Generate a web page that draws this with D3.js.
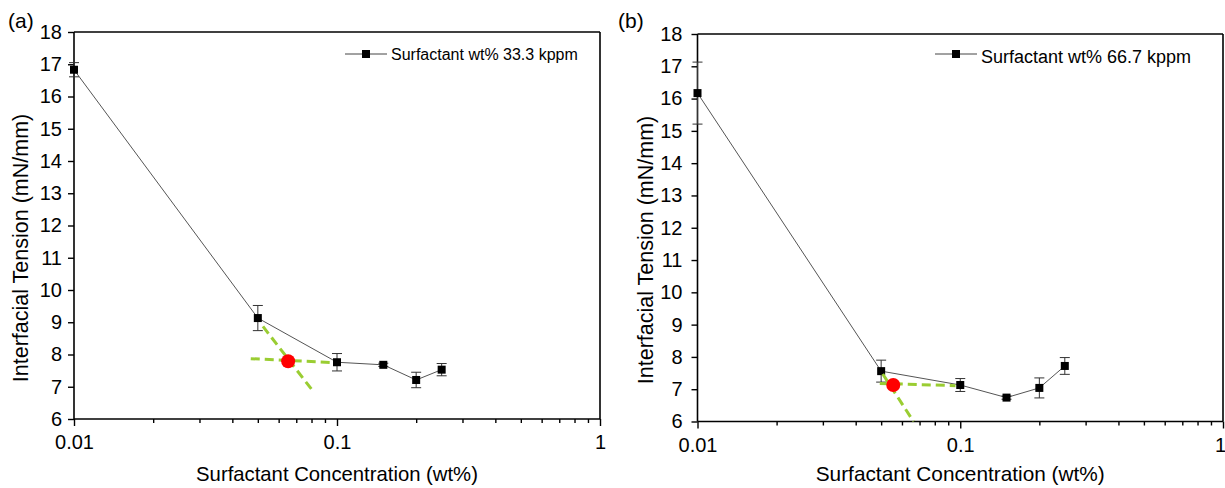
<!DOCTYPE html>
<html>
<head>
<meta charset="utf-8">
<script src="https://cdn.jsdelivr.net/npm/d3@7"></script>
<style>
  body { margin: 0; background: #fff; }
  svg { display: block; font-family: "Liberation Sans", Arial, sans-serif; }
</style>
</head>
<body>
<svg id="chart" width="1225" height="488"></svg>
<script>
// ---------- data ----------
const concentrations = [0.01, 0.05, 0.1, 0.15, 0.2, 0.25];
const tensionA = [16.83, 9.13, 7.76, 7.68, 7.21, 7.53];
const errorA = [0.22, 0.39, 0.27, 0.05, 0.24, 0.19];
const tensionB = [16.17, 7.56, 7.13, 6.74, 7.04, 7.72];
const errorB = [0.96, 0.34, 0.2, 0.05, 0.31, 0.26];

const legendA = "Surfactant wt% 33.3 kppm";
const legendB = "Surfactant wt% 66.7 kppm";

const yTicks = [6, 7, 8, 9, 10, 11, 12, 13, 14, 15, 16, 17, 18];
const xMajorTicks = [0.01, 0.1, 1];
const xTickLabels = ["0.01", "0.1", "1"];
const xMinorTicks = [0.02, 0.03, 0.04, 0.05, 0.06, 0.07, 0.08, 0.09,
                     0.2, 0.3, 0.4, 0.5, 0.6, 0.7, 0.8, 0.9];

// tangent (green dashed) lines and intersection (red) points
const tangentsA = [
  [[0.0523, 8.87], [0.0815, 6.84]],
  [[0.047, 7.87], [0.0963, 7.75]]
];
const cmcA = [0.0652, 7.79];
const tangentsB = [
  [[0.0507, 7.47], [0.0664, 6.0]],
  [[0.0494, 7.18], [0.0959, 7.11]]
];
const cmcB = [0.0556, 7.13];

// ---------- drawing ----------
const svg = d3.select("#chart");

function panel(cfg) {
  const x = d3.scaleLog().domain([0.01, 1]).range([cfg.x0, cfg.x1]);
  const y = d3.scaleLinear().domain([6, 18]).range([cfg.y1, cfg.y0]);
  const g = svg.append("g");

  // frame top & right
  g.append("line").attr("x1", cfg.x0).attr("x2", cfg.x1).attr("y1", cfg.y0).attr("y2", cfg.y0)
    .attr("stroke", "#000").attr("stroke-width", 1.6);
  g.append("line").attr("x1", cfg.x1).attr("x2", cfg.x1).attr("y1", cfg.y0).attr("y2", cfg.y1)
    .attr("stroke", "#000").attr("stroke-width", 1.6);

  // x minor ticks
  g.append("g").attr("transform", `translate(0,${cfg.y1})`)
    .call(d3.axisBottom(x).tickValues(xMinorTicks).tickSize(4).tickFormat(""))
    .call(s => s.select(".domain").remove())
    .call(s => s.selectAll("line").attr("stroke-width", 1.4));

  // x major axis
  const xa = g.append("g").attr("transform", `translate(0,${cfg.y1})`)
    .call(d3.axisBottom(x).tickValues(xMajorTicks).tickSize(7).tickPadding(9)
      .tickFormat((d, i) => xTickLabels[i]));
  xa.select(".domain").attr("stroke-width", 1.6).attr("d", `M${cfg.x0},0H${cfg.x1}`);
  xa.selectAll("line").attr("stroke-width", 1.4);
  xa.selectAll("text").attr("font-size", cfg.tickFont).attr("fill", "#000")
    .attr("font-family", "Liberation Sans, Arial, sans-serif")
    .attr("dx", d => d === 1 ? cfg.lastDx : 0);

  // y axis
  const ya = g.append("g").attr("transform", `translate(${cfg.x0},0)`)
    .call(d3.axisLeft(y).tickValues(yTicks).tickSize(6).tickPadding(cfg.yPad));
  ya.select(".domain").attr("stroke-width", 1.6).attr("d", `M0,${cfg.y1}V${cfg.y0}`);
  ya.selectAll("line").attr("stroke-width", 1.4);
  ya.selectAll("text").attr("font-size", cfg.tickFont).attr("fill", "#000")
    .attr("font-family", "Liberation Sans, Arial, sans-serif");

  // axis titles
  g.append("text").attr("x", (cfg.x0 + cfg.x1) / 2).attr("y", cfg.xTitleY)
    .attr("text-anchor", "middle").attr("font-size", cfg.xTitleFont)
    .text("Surfactant Concentration (wt%)");
  g.append("text").attr("transform", `translate(${cfg.yTitleX},${cfg.yTitleY}) rotate(-90)`)
    .attr("text-anchor", "middle").attr("font-size", cfg.yTitleFont)
    .text("Interfacial Tension (mN/mm)");

  // panel label
  g.append("text").attr("x", cfg.labelX).attr("y", 28).attr("font-size", 21).text(cfg.label);

  const pts = concentrations.map((c, i) => ({ c, v: cfg.values[i], e: cfg.errors[i] }));

  // connecting line
  g.append("path").datum(pts)
    .attr("d", d3.line().x(d => x(d.c)).y(d => y(d.v)))
    .attr("fill", "none").attr("stroke", "#555").attr("stroke-width", 1);

  // error bars
  const eb = g.append("g").attr("stroke", "#333").attr("stroke-width", 1);
  pts.forEach(d => {
    const cx = x(d.c);
    eb.append("line").attr("x1", cx).attr("x2", cx).attr("y1", y(d.v - d.e)).attr("y2", y(d.v + d.e));
    [d.v - d.e, d.v + d.e].forEach(v => {
      eb.append("line").attr("x1", cx - 5).attr("x2", cx + 5).attr("y1", y(v)).attr("y2", y(v));
    });
  });

  // squares
  g.selectAll("rect.pt").data(pts).enter().append("rect")
    .attr("x", d => x(d.c) - 4).attr("y", d => y(d.v) - 4)
    .attr("width", 8).attr("height", 8).attr("fill", "#000");

  // tangent lines
  cfg.tangents.forEach(t => {
    g.append("line")
      .attr("x1", x(t[0][0])).attr("y1", y(t[0][1]))
      .attr("x2", x(t[1][0])).attr("y2", y(t[1][1]))
      .attr("stroke", "#9ACD32").attr("stroke-width", 3).attr("stroke-dasharray", "9,5");
  });

  // intersection point
  g.append("circle").attr("cx", x(cfg.cmc[0])).attr("cy", y(cfg.cmc[1])).attr("r", 7)
    .attr("fill", "#ff0000");

  // legend
  const lg = g.append("g");
  lg.append("line").attr("x1", cfg.legX).attr("x2", cfg.legX + 42)
    .attr("y1", 54).attr("y2", 54).attr("stroke", "#444").attr("stroke-width", 1);
  lg.append("rect").attr("x", cfg.legX + 17).attr("y", 50).attr("width", 8).attr("height", 8).attr("fill", "#000");
  lg.append("text").attr("x", cfg.legX + 46).attr("y", cfg.legBase)
    .attr("font-size", cfg.legFont).text(cfg.legend);
}

panel({
  x0: 74, x1: 600, y0: 32, y1: 419,
  values: tensionA, errors: errorA, tangents: tangentsA, cmc: cmcA,
  tickFont: 20, yPad: 6, xTitleFont: 20.3, yTitleFont: 21.5, lastDx: 0,
  xTitleY: 481, yTitleX: 28, yTitleY: 248,
  label: "(a)", labelX: 8,
  legX: 345, legBase: 60, legFont: 16, legend: legendA
});

panel({
  x0: 697.5, x1: 1223, y0: 34, y1: 421.5,
  values: tensionB, errors: errorB, tangents: tangentsB, cmc: cmcB,
  tickFont: 20, yPad: 9, xTitleFont: 20.8, yTitleFont: 21.5, lastDx: -3,
  xTitleY: 481, yTitleX: 653, yTitleY: 250,
  label: "(b)", labelX: 618,
  legX: 935, legBase: 63, legFont: 18, legend: legendB
});
</script>
</body>
</html>
